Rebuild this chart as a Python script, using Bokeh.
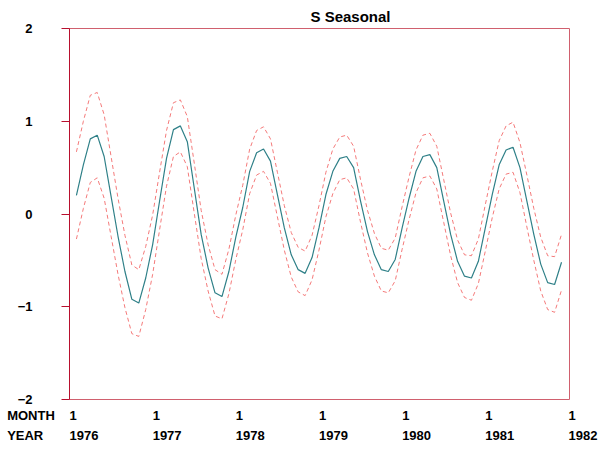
from bokeh.plotting import figure
from bokeh.models import Range1d, FixedTicker, ColumnDataSource, Title
from bokeh.layouts import column
from bokeh.embed import file_html
from bokeh.resources import INLINE

# months since Jan 1976 (0 = Jan 1976)
months = list(range(1, 72))

seasonal = [0.20, 0.53, 0.81, 0.85, 0.62, 0.19, -0.24, -0.62, -0.92, -0.96, -0.69, -0.33,
            0.14, 0.60, 0.91, 0.95, 0.78, 0.28, -0.22, -0.58, -0.85, -0.89, -0.62, -0.25,
            0.07, 0.46, 0.66, 0.70, 0.57, 0.21, -0.15, -0.44, -0.60, -0.64, -0.47, -0.15,
            0.21, 0.46, 0.60, 0.62, 0.50, 0.14, -0.19, -0.44, -0.60, -0.62, -0.49, -0.15,
            0.17, 0.46, 0.62, 0.64, 0.50, 0.14, -0.22, -0.51, -0.67, -0.69, -0.51, -0.15,
            0.21, 0.53, 0.69, 0.72, 0.50, 0.14, -0.22, -0.54, -0.74, -0.76, -0.52]

upper = [0.67, 1.00, 1.28, 1.31, 1.07, 0.62, 0.17, -0.23, -0.55, -0.60, -0.35, -0.01,
         0.45, 0.90, 1.20, 1.23, 1.05, 0.55, 0.04, -0.33, -0.60, -0.65, -0.38, -0.01,
         0.31, 0.70, 0.90, 0.94, 0.81, 0.45, 0.09, -0.20, -0.36, -0.40, -0.23, 0.09,
         0.45, 0.70, 0.83, 0.85, 0.73, 0.37, 0.04, -0.21, -0.37, -0.39, -0.26, 0.08,
         0.40, 0.69, 0.85, 0.87, 0.73, 0.37, 0.01, -0.28, -0.44, -0.45, -0.27, 0.10,
         0.46, 0.79, 0.95, 0.99, 0.77, 0.42, 0.06, -0.25, -0.45, -0.46, -0.22]

lower = [-0.27, 0.06, 0.34, 0.39, 0.17, -0.24, -0.65, -1.01, -1.29, -1.32, -1.03, -0.65,
         -0.17, 0.30, 0.62, 0.67, 0.51, 0.01, -0.48, -0.83, -1.10, -1.13, -0.86, -0.49,
         -0.17, 0.22, 0.42, 0.46, 0.33, -0.03, -0.39, -0.68, -0.84, -0.88, -0.71, -0.39,
         -0.03, 0.22, 0.37, 0.39, 0.27, -0.09, -0.42, -0.67, -0.83, -0.85, -0.72, -0.38,
         -0.06, 0.23, 0.39, 0.41, 0.27, -0.09, -0.45, -0.74, -0.90, -0.93, -0.75, -0.40,
         -0.04, 0.27, 0.43, 0.45, 0.23, -0.14, -0.50, -0.83, -1.03, -1.06, -0.82]

y_ticks = [-2, -1, 0, 1, 2]
year_ticks = [0, 12, 24, 36, 48, 60, 72]
month_labels = ["1", "1", "1", "1", "1", "1", "1"]
year_labels = ["1976", "1977", "1978", "1979", "1980", "1981", "1982"]
row_titles = ["MONTH", "YEAR"]

FONT = "Liberation Sans"
X_END = 72.15
LEFT, FRAME_W, RIGHT = 69, 500, 29
TOP, FRAME_H, BOTTOM = 28, 371, 8
STRIP_H = 449 - (TOP + FRAME_H + BOTTOM)

p = figure(frame_width=FRAME_W, frame_height=FRAME_H, output_backend="svg", toolbar_location=None,
           x_range=Range1d(0, X_END), y_range=Range1d(-2, 2),
           min_border_left=LEFT, min_border_right=RIGHT, min_border_top=TOP,
           min_border_bottom=BOTTOM, x_axis_location=None)
p.xgrid.visible = False
p.ygrid.visible = False
p.outline_line_color = "#d0606e"
p.outline_line_width = 1

ax = p.yaxis[0]
ax.ticker = FixedTicker(ticks=y_ticks)
ax.axis_line_color = "#b8102e"
ax.major_tick_line_color = "#b8102e"
ax.major_tick_out = 8
ax.major_tick_in = 0
ax.minor_tick_out = 0
ax.minor_tick_in = 0
ax.major_label_standoff = 29
ax.major_label_text_font = FONT
ax.major_label_text_font_style = "bold"
ax.major_label_text_font_size = "13px"
ax.major_label_text_color = "black"

p.line(months, upper, line_color="#f47a7a", line_width=1, line_dash="4 3")
p.line(months, lower, line_color="#f47a7a", line_width=1, line_dash="4 3")
p.line(months, seasonal, line_color="#2f8088", line_width=1.2)

p.add_layout(Title(text="S Seasonal", align="left", offset=241, standoff=8,
                   text_font=FONT, text_font_style="bold", text_font_size="15px",
                   text_color="black"), "above")

# bottom label strip, same month scale as the main plot, frame spanning the full width
ppm = FRAME_W / X_END
p2 = figure(frame_width=LEFT + FRAME_W + RIGHT, frame_height=STRIP_H, output_backend="svg",
            toolbar_location=None,
            x_range=Range1d(-LEFT / ppm, (FRAME_W + RIGHT) / ppm), y_range=Range1d(STRIP_H, 0),
            min_border_left=0, min_border_right=0, min_border_top=0, min_border_bottom=0,
            x_axis_location=None, y_axis_location=None)
p2.outline_line_color = None
p2.xgrid.visible = False
p2.ygrid.visible = False
for fig in (p, p2):
    try:
        fig.frame_align = False
    except Exception:
        pass

src = ColumnDataSource(dict(x=year_ticks, m=month_labels, yr=year_labels))
common = dict(text_align="left", text_baseline="middle", text_font={"value": FONT},
              text_font_style="bold", text_font_size="13px", text_color="black")
row1 = 415 - (TOP + FRAME_H + BOTTOM)
row2 = 435 - (TOP + FRAME_H + BOTTOM)
p2.text(x="x", y=row1, text="m", source=src, **common)
p2.text(x="x", y=row2, text="yr", source=src, **common)
p2.text(x=[-9.0, -9.0], y=[row1, row2], text=row_titles, **common)

layout = column(p, p2, spacing=0)
open("out.html", "w").write(file_html(layout, INLINE))
